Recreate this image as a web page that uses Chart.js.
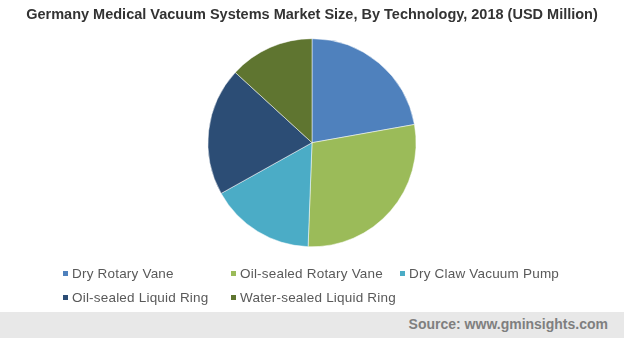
<!DOCTYPE html>
<html>
<head>
<meta charset="utf-8">
<script src="https://cdn.jsdelivr.net/npm/chart.js@4"></script>
<style>
  html, body { margin: 0; padding: 0; background: #fff; }
  #wrap { position: relative; width: 624px; height: 338px; overflow: hidden; }
  #chart { position: absolute; left: 0; top: 0; }
  #legend {
    position: absolute; left: 63px; top: 265px;
    display: grid; grid-template-columns: 168px 169px 180px; row-gap: 6px;
    font-family: "Liberation Sans", Arial, sans-serif; font-size: 13.5px; letter-spacing: 0.2px; color: #595959;
  }
  #legend div { white-space: nowrap; height: 18px; line-height: 18px; }
  #legend span { display: inline-block; width: 5px; height: 5px; margin-right: 4px; vertical-align: 2px; }
  #footer {
    position: absolute; left: 0; top: 312px; width: 624px; height: 26px; background: #e8e8e8;
    font-family: "Liberation Sans", Arial, sans-serif; font-weight: bold; font-size: 14px; color: #7f7f7f;
    text-align: right; line-height: 24px; box-sizing: border-box; padding-right: 16px;
  }
</style>
</head>
<body>
<div id="wrap">
  <canvas id="chart" width="624" height="338"></canvas>
  <div id="legend"></div>
  <div id="footer">Source: www.gminsights.com</div>
</div>
<script>
// data
var technologies = ["Dry Rotary Vane", "Oil-sealed Rotary Vane", "Dry Claw Vacuum Pump", "Oil-sealed Liquid Ring", "Water-sealed Liquid Ring"];
var marketSize = [22.2, 28.4, 16.3, 19.9, 13.2];
var sliceColors = ["#4f81bd", "#9bbb59", "#4bacc6", "#2c4d75", "#5f7530"];

var ctx = document.getElementById('chart').getContext('2d');
var chart = new Chart(ctx, {
    type: 'pie',
    data: {
        labels: technologies,
        datasets: [{
            label: "Market Size",
            data: marketSize,
            backgroundColor: sliceColors,
            borderColor: "#ffffff",
            borderWidth: 0.5
        }]
    },
    options: {
        responsive: false,
        animation: false,
        layout: { padding: { top: 0, bottom: 91, left: 0, right: 0 } },
        plugins: {
            legend: { display: false },
            tooltip: { enabled: false },
            title: {
                display: true,
                text: "Germany Medical Vacuum Systems Market Size, By Technology, 2018 (USD Million)",
                color: "#333333",
                font: { family: "Liberation Sans", size: 14.5, weight: "bold" },
                padding: { top: 6, bottom: 15 }
            }
        }
    }
});

// legend built from the same arrays
var legend = document.getElementById('legend');
chart.data.labels.forEach(function (name, i) {
    var item = document.createElement('div');
    var box = document.createElement('span');
    box.style.background = chart.data.datasets[0].backgroundColor[i];
    item.appendChild(box);
    item.appendChild(document.createTextNode(name));
    legend.appendChild(item);
});
</script>
</body>
</html>
